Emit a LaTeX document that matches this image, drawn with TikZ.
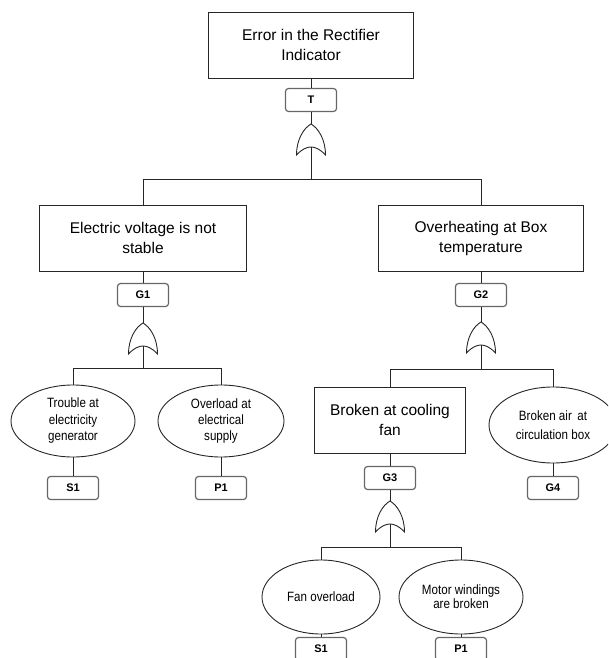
\documentclass[tikz,border=0pt]{standalone}
\usepackage{fontspec}
\setmainfont{Liberation Sans}
\newfontfamily\narrowfont[FakeStretch=0.86]{Liberation Sans}
\usetikzlibrary{shapes.geometric}
\tikzset{
  conn/.style={line width=0.9pt, draw=black!85},
  big/.style={draw=black!85, rectangle, line width=0.9pt, align=center, inner sep=0pt,
    font=\fontsize{15.5}{20}\selectfont},
  evt/.style={draw=black!85, ellipse, line width=0.9pt, align=center, inner sep=0pt,
    font=\narrowfont\fontsize{13.5}{16}\selectfont},
  tag/.style={draw=black!60, rounded corners=3pt, line width=1.2pt, minimum width=51pt,
    minimum height=23pt, inner sep=0pt, font=\fontsize{11}{12}\selectfont\bfseries},
  orgate/.pic={
    \draw[line width=0.9pt, draw=black!85] (-14.5,31) .. controls (-14.5,15) and (-7,4) .. (0,0)
      .. controls (7,4) and (14.5,15) .. (14.5,31)
      .. controls (9,25) and (4,23) .. (0,23)
      .. controls (-4,23) and (-9,25) .. (-14.5,31) -- cycle;
    \coordinate (-top) at (0,0);
    \coordinate (-bot) at (0,23);
  }
}
\begin{document}
\begin{tikzpicture}[x=1pt,y=-1pt]
\clip (0,0) rectangle (608,658);
% top event
\node[big, minimum width=205pt, minimum height=66pt] (top) at (311,45) {Error in the Rectifier\\Indicator};
\node[tag] (T) at (311,100) {T};
\pic (g0) at (311,124) {orgate};
\draw[conn] (top.south) -- (T.north);
\draw[conn] (T.south) -- (g0-top);
% level 1
\node[big, minimum width=207pt, minimum height=66pt] (e1) at (143,238) {Electric voltage is not\\stable};
\node[big, minimum width=205pt, minimum height=66pt] (e2) at (481,238) {Overheating at Box\\temperature};
\draw[conn] (e1.north) -- ++(0,-25) -| (g0-bot);
\draw[conn] (e2.north) -- ++(0,-25) -| (g0-bot);
% G1 branch
\node[tag] (G1) at (143,295) {G1};
\pic (g1) at (143,323) {orgate};
\draw[conn] (e1.south) -- (G1.north);
\draw[conn] (G1.south) -- (g1-top);
\node[evt, minimum width=124pt, minimum height=72pt, font=\narrowfont\fontsize{13.5}{16.5}\selectfont] (s1e) at (73,421) {Trouble at\\electricity\\generator};
\node[evt, minimum width=126pt, minimum height=72pt] (p1e) at (221,421) {Overload at\\electrical\\supply};
\draw[conn] (s1e.north) -- ++(0,-16) -| (g1-bot);
\draw[conn] (p1e.north) -- ++(0,-16) -| (g1-bot);
\node[tag] (S1a) at (73,488) {S1};
\node[tag] (P1a) at (221,488) {P1};
\draw[conn] (s1e.south) -- (S1a.north);
\draw[conn] (p1e.south) -- (P1a.north);
% G2 branch
\node[tag] (G2) at (481,295) {G2};
\pic (g2) at (481,322) {orgate};
\draw[conn] (e2.south) -- (G2.north);
\draw[conn] (G2.south) -- (g2-top);
\node[big, minimum width=151pt, minimum height=66pt] (bf) at (390,420) {Broken at cooling\\fan};
\node[evt, minimum width=128pt, minimum height=76pt, font=\narrowfont\fontsize{13.5}{19}\selectfont] (ba) at (553,425) {Broken air\, at\\circulation box};
\draw[conn] (bf.north) -- ++(0,-17) -| (g2-bot);
\draw[conn] (ba.north) -- ++(0,-17) -| (g2-bot);
\node[tag] (G4) at (553,488) {G4};
\draw[conn] (ba.south) -- (G4.north);
% G3 branch
\node[tag] (G3) at (390,478) {G3};
\pic (g3) at (390,501) {orgate};
\draw[conn] (bf.south) -- (G3.north);
\draw[conn] (G3.south) -- (g3-top);
\node[evt, minimum width=118pt, minimum height=74pt] (fo) at (321,597) {Fan overload};
\node[evt, minimum width=124pt, minimum height=74pt, font=\narrowfont\fontsize{13.5}{14}\selectfont] (mw) at (461,597) {Motor windings\\are broken};
\draw[conn] (fo.north) -- ++(0,-12) -| (g3-bot);
\draw[conn] (mw.north) -- ++(0,-12) -| (g3-bot);
\node[tag] (S1b) at (321,649) {S1};
\node[tag] (P1b) at (461,649) {P1};
\draw[conn] (fo.south) -- (S1b.north);
\draw[conn] (mw.south) -- (P1b.north);
\end{tikzpicture}
\end{document}
